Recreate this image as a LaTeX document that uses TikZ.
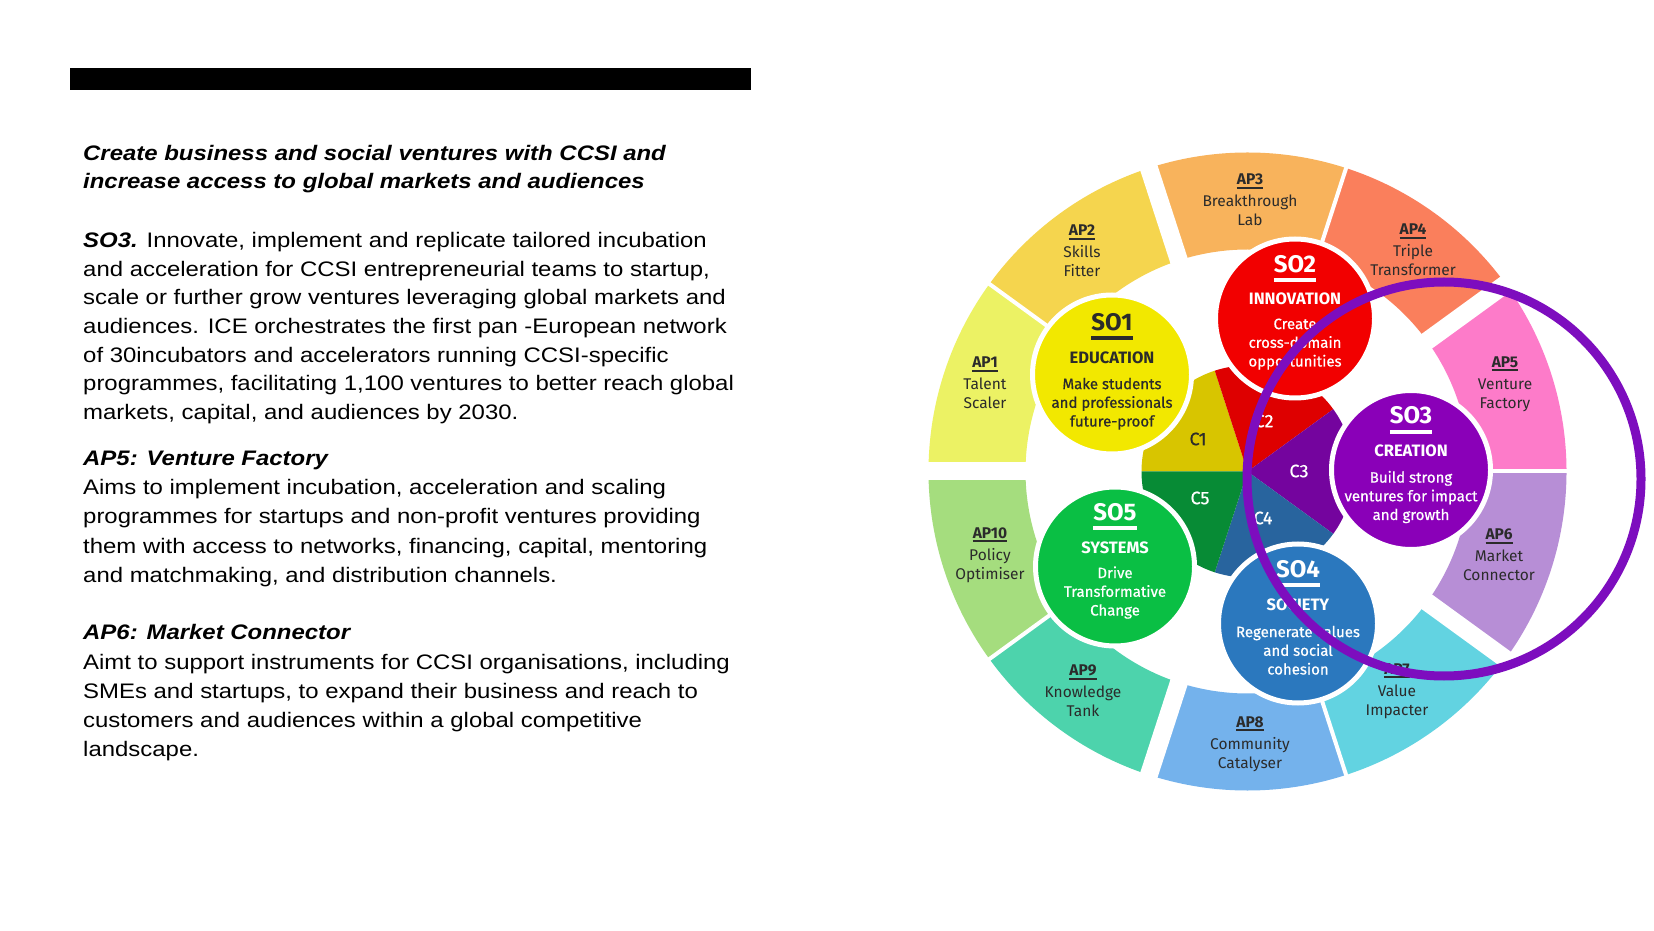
\documentclass[tikz,border=0pt]{standalone}
\usepackage{fontspec}
\setmainfont{Liberation Sans}[FakeStretch=1.14]
\newfontfamily\fira{Fira Sans}
\newfontfamily\firamed{Fira Sans}[FakeBold=0.6]
\usetikzlibrary{calc}
\definecolor{apa}{HTML}{ECF264}
\definecolor{apb}{HTML}{F5D54E}
\definecolor{apc}{HTML}{F8B35C}
\definecolor{apd}{HTML}{FA7F5C}
\definecolor{ape}{HTML}{FD7BC9}
\definecolor{apf}{HTML}{B78ED6}
\definecolor{apg}{HTML}{62D3E1}
\definecolor{aph}{HTML}{74B2EC}
\definecolor{api}{HTML}{4DD3AC}
\definecolor{apj}{HTML}{A5DD7E}
\definecolor{soa}{HTML}{F2E800}
\definecolor{sob}{HTML}{F20000}
\definecolor{soc}{HTML}{8A00B8}
\definecolor{sod}{HTML}{2B78BE}
\definecolor{soe}{HTML}{0ABF44}
\definecolor{ca}{HTML}{D8C500}
\definecolor{cb}{HTML}{DE0000}
\definecolor{cc}{HTML}{74049E}
\definecolor{cd}{HTML}{28649E}
\definecolor{ce}{HTML}{078B35}
\definecolor{ringpurple}{HTML}{7D0DBE}
\definecolor{darktxt}{HTML}{2B2B2B}
\newcommand\apul[1]{\setbox0\hbox{#1}\rlap{\raisebox{-4pt}{\rule{\wd0}{1.8pt}}}\box0}
\newcommand\sobar[1]{\setbox0\hbox{#1}\rlap{\raisebox{-10pt}{\rule{\wd0}{4pt}}}\box0}
\tikzset{
  bodytext/.style={anchor=base west, inner sep=0pt, font=\fontsize{21}{29}\selectfont},
  headtext/.style={bodytext, font=\fontsize{21}{29}\selectfont\bfseries\itshape},
  socirc/.style={circle, minimum size=159pt, inner sep=0pt, draw=white, line width=5pt},
  sotitle/.style={anchor=base, inner sep=0pt, font=\fira\fontsize{24}{28}\selectfont\bfseries},
  sosub/.style={anchor=base, inner sep=0pt, font=\fira\fontsize{16.5}{19}\selectfont\bfseries},
  sodesc/.style={anchor=base, inner sep=0pt, align=center, font=\firamed\fontsize{15}{18.7}\selectfont},
  aplabel/.style={anchor=center, inner sep=0pt, align=center, text=darktxt, font=\fira\fontsize{15.5}{19}\selectfont},
  clabel/.style={inner sep=0pt, font=\firamed\fontsize{18}{20}\selectfont}
}
\begin{document}
\begin{tikzpicture}[x=1pt,y=1pt]
\useasboundingbox (0,0) rectangle (1654,930);
\fill[white] (0,0) rectangle (1654,930);
% black bar
\fill[black] (70,840) rectangle (751,862);
% heading
\node[headtext] (h1) at (83,{930-161}) {Create business and social ventures with CCSI and};
\node[headtext] (h2) at (83,{930-189}) {increase access to global markets and audiences};
% SO3 paragraph
\node[bodytext] (s1) at (83,{930-248}) {\textbf{\textit{SO3.}} Innovate, implement and replicate tailored incubation};
\node[bodytext] (s2) at (83,{930-276.5}) {and acceleration for CCSI entrepreneurial teams to startup,};
\node[bodytext] (s3) at (83,{930-305}) {scale or further grow ventures leveraging global markets and};
\node[bodytext] (s4) at (83,{930-334}) {audiences. ICE orchestrates the first pan -European network};
\node[bodytext] (s5) at (83,{930-362.5}) {of 30incubators and accelerators running CCSI-specific};
\node[bodytext] (s6) at (83,{930-391}) {programmes, facilitating 1,100 ventures to better reach global};
\node[bodytext] (s7) at (83,{930-420}) {markets, capital, and audiences by 2030.};
% AP5
\node[headtext] (a5h) at (83,{930-466}) {AP5: Venture Factory};
\node[bodytext] (a51) at (83,{930-495}) {Aims to implement incubation, acceleration and scaling};
\node[bodytext] (a52) at (83,{930-524}) {programmes for startups and non-profit ventures providing};
\node[bodytext] (a53) at (83,{930-553}) {them with access to networks, financing, capital, mentoring};
\node[bodytext] (a54) at (83,{930-582}) {and matchmaking, and distribution channels.};
% AP6
\node[headtext] (a6h) at (83,{930-639}) {AP6: Market Connector};
\node[bodytext] (a61) at (83,{930-669}) {Aimt to support instruments for CCSI organisations, including};
\node[bodytext] (a62) at (83,{930-698}) {SMEs and startups, to expand their business and reach to};
\node[bodytext] (a63) at (83,{930-727}) {customers and audiences within a global competitive};
\node[bodytext] (a64) at (83,{930-756}) {landscape.};

% ===== diagram =====
\begin{scope}[shift={(1247.5,458.5)}]
  % ring segments
  \foreach \k/\c in {1/apa,2/apb,3/apc,4/apd,5/ape,6/apf,7/apg,8/aph,9/api,10/apj}{
    \pgfmathsetmacro\aa{180-36*\k}
    \pgfmathsetmacro\ab{216-36*\k}
    \fill[\c] (\aa:222) arc[start angle=\aa, end angle=\ab, radius=222] -- (\ab:319) arc[start angle=\ab, end angle=\aa, radius=319] -- cycle;
  }
  \foreach \a in {36,108,180,252,324} \draw[white, line width=18pt] (\a:215) -- (\a:330);
  \foreach \a in {0,72,144,216,288} \draw[white, line width=4pt] (\a:215) -- (\a:330);
  % pie
  \foreach \a/\b/\c in {108/180/ca, 36/108/cb, -36/36/cc, -108/-36/cd, 180/252/ce}
    \fill[\c] (0,0) -- (\a:106) arc[start angle=\a, end angle=\b, radius=106] -- cycle;
\end{scope}
% pie labels
\node[clabel, text=darktxt] (c1) at (1198,{930-439}) {C1};
\node[clabel, text=white] (c2) at (1264,{930-421}) {C2};
\node[clabel, text=white] (c3) at (1299,{930-471}) {C3};
\node[clabel, text=white] (c4) at (1263,{930-518}) {C4};
\node[clabel, text=white] (c5) at (1200,{930-498}) {C5};
% AP labels
\node[aplabel] (ap1) at (985,{930-383}) {\apul{\textbf{AP1}}\\[3pt]Talent\\Scaler};
\node[aplabel] (ap2) at (1082,{930-251}) {\apul{\textbf{AP2}}\\[3pt]Skills\\Fitter};
\node[aplabel] (ap3) at (1250,{930-200}) {\apul{\textbf{AP3}}\\[3pt]Breakthrough\\Lab};
\node[aplabel] (ap4) at (1413,{930-250}) {\apul{\textbf{AP4}}\\[3pt]Triple\\Transformer};
\node[aplabel] (ap5) at (1505,{930-384}) {\apul{\textbf{AP5}}\\[3pt]Venture\\Factory};
\node[aplabel] (ap6) at (1499,{930-555}) {\apul{\textbf{AP6}}\\[3pt]Market\\Connector};
\node[aplabel] (ap7) at (1397,{930-691}) {\apul{\textbf{AP7}}\\[3pt]Value\\Impacter};
\node[aplabel] (ap8) at (1250,{930-744}) {\apul{\textbf{AP8}}\\[3pt]Community\\Catalyser};
\node[aplabel] (ap9) at (1083,{930-691}) {\apul{\textbf{AP9}}\\[3pt]Knowledge\\Tank};
\node[aplabel] (ap10) at (990,{930-555}) {\apul{\textbf{AP10}}\\[3pt]Policy\\Optimiser};
% SO circles
\node[socirc, fill=soa] (so1) at (1112,{930-374.5}) {};
\node[socirc, fill=sob] (so2) at (1295,{930-318.5}) {};
\node[socirc, fill=soc] (so3) at (1411,{930-470}) {};
\node[socirc, fill=sod] (so4) at (1298,{930-623.5}) {};
\node[socirc, fill=soe] (so5) at (1115,{930-566.5}) {};
% SO1 text
\node[sotitle, text=darktxt] (so1t) at ([yshift=44pt]so1.center) {\sobar{SO1}};
\node[sosub, text=darktxt] (so1s) at ([yshift=11pt]so1.center) {EDUCATION};
\node[sodesc, text=darktxt] (so1d) at ([yshift=-52pt]so1.center) {Make students\\and professionals\\future-proof};
% SO2
\node[sotitle, text=white] (so2t) at ([yshift=46pt]so2.center) {\sobar{SO2}};
\node[sosub, text=white] (so2s) at ([yshift=14pt]so2.center) {INNOVATION};
\node[sodesc, text=white] (so2d) at ([yshift=-48pt]so2.center) {Create\\cross-domain\\opportunities};
% SO3
\node[sotitle, text=white] (so3t) at ([yshift=46pt]so3.center) {\sobar{SO3}};
\node[sosub, text=white] (so3s) at ([yshift=13pt]so3.center) {CREATION};
\node[sodesc, text=white] (so3d) at ([yshift=-50pt]so3.center) {Build strong\\ventures for impact\\and growth};
% SO4
\node[sotitle, text=white] (so4t) at ([yshift=46pt]so4.center) {\sobar{SO4}};
\node[sosub, text=white] (so4s) at ([yshift=13pt]so4.center) {SOCIETY};
\node[sodesc, text=white] (so4d) at ([yshift=-51pt]so4.center) {Regenerate values\\and social\\cohesion};
% SO5
\node[sotitle, text=white] (so5t) at ([yshift=46pt]so5.center) {\sobar{SO5}};
\node[sosub, text=white] (so5s) at ([yshift=13pt]so5.center) {SYSTEMS};
\node[sodesc, text=white] (so5d) at ([yshift=-49pt]so5.center) {Drive\\Transformative\\Change};
% purple highlight ring
\coordinate (hl) at (1444,{930-479});
\draw[ringpurple, line width=9pt] (hl) circle[radius=197];
\end{tikzpicture}
\end{document}
